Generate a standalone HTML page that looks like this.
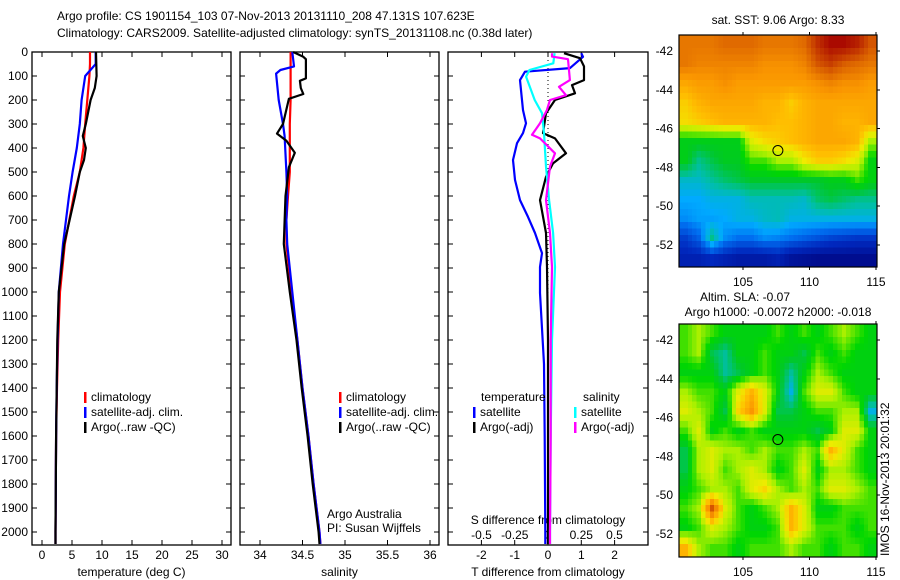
<!DOCTYPE html>
<html><head><meta charset="utf-8">
<style>
html,body{margin:0;padding:0;background:#fff;}
svg{display:block;font-family:"Liberation Sans",sans-serif;font-size:12px;}
</style></head>
<body>
<svg id="fig" width="900" height="580" viewBox="0 0 900 580">
<text x="57" y="20">Argo profile: CS 1901154_103 07-Nov-2013 20131110_208 47.131S 107.623E</text>
<text x="57" y="37">Climatology: CARS2009. Satellite-adjusted climatology: synTS_20131108.nc (0.38d later)</text>
<g id="g1"></g>
<g id="g2"></g>
<g id="g3"></g>
<g id="m1" shape-rendering="crispEdges"></g>
<g id="m2" shape-rendering="crispEdges"></g>
<text x="778" y="24" text-anchor="middle">sat. SST: 9.06 Argo: 8.33</text>
<text x="745" y="301" text-anchor="middle">Altim. SLA: -0.07</text>
<text x="778" y="316" text-anchor="middle">Argo h1000: -0.0072 h2000: -0.018</text>
<text transform="translate(889,556) rotate(-90)">IMOS 16-Nov-2013 20:01:32</text>
<text x="327" y="518">Argo Australia</text>
<text x="327" y="532">PI: Susan Wijffels</text>
</svg>
<script>
// ---- profile data ----
const tempDepth = [0,50,100,200,300,400,500,600,800,1000,1200,1400,1600,1800,2000,2050];
const tempClim = [8.0,8.0,7.9,7.55,7.2,6.9,6.3,5.3,3.8,3.0,2.7,2.5,2.35,2.3,2.25,2.25];
const tempSat = [8.95,8.95,7.2,6.6,6.3,5.8,5.1,4.5,3.5,2.8,2.6,2.45,2.35,2.3,2.25,2.25];
const argoTDepth = [0,100,150,200,300,350,400,450,500,600,800,1000,1200,1600,2000,2050];
const argoT = [9.0,9.1,8.8,8.1,7.3,6.8,7.3,7.0,6.3,5.5,3.7,2.8,2.55,2.35,2.25,2.25];

const salDepth = [0,60,75,90,200,300,350,500,600,700,800,1000,1200,1400,1600,1800,2000,2050];
const salClim = [34.36,34.36,34.36,34.36,34.36,34.35,34.35,34.35,34.33,34.31,34.31,34.37,34.44,34.5,34.57,34.63,34.7,34.71];
const salSat = [34.38,34.40,34.24,34.19,34.22,34.27,34.29,34.31,34.32,34.31,34.32,34.38,34.44,34.5,34.57,34.63,34.7,34.71];
const argoSDepth = [0,20,30,110,120,150,175,195,300,340,370,420,480,600,800,1000,1200,1400,1600,1800,2000,2050];
const argoS = [34.39,34.51,34.54,34.54,34.47,34.48,34.51,34.34,34.27,34.2,34.31,34.41,34.34,34.30,34.28,34.35,34.43,34.49,34.56,34.62,34.69,34.70];

const dTSatDepth = [5,20,67,82,117,242,297,338,380,450,533,617,687,754,838,896,1004,1300,1600,2000,2050];
const dTSat = [1.0,1.05,0.66,-0.69,-0.84,-0.75,-0.66,-0.75,-0.93,-1.05,-0.99,-0.84,-0.6,-0.39,-0.18,-0.24,-0.24,-0.12,-0.1,-0.08,-0.08];
const dTArgoDepth = [5,26,60,117,138,172,200,255,338,360,422,464,520,617,754,896,1200,1600,2000,2050];
const dTArgo = [0.48,0.96,1.08,1.08,0.72,0.81,0.21,-0.06,-0.15,0.21,0.54,0.15,-0.06,-0.24,-0.06,-0.03,0,0,0,0];
const dSSatDepth = [5,47,75,103,200,255,338,477,617,754,896,1200,1600,2000,2050];
const dSSat = [0.05,0.04,-0.14,-0.165,-0.1,-0.045,-0.03,-0.015,0.008,0.038,0.053,0.03,0.02,0.015,0.015];
const dSArgoDepth = [5,19,30,117,145,180,200,242,297,345,360,422,477,617,754,896,1200,1600,2000,2050];
const dSArgo = [0.03,0.03,0.15,0.165,0.083,0.135,0.015,-0.008,-0.06,-0.12,-0.06,0.053,0.015,-0.015,0.015,0.03,0.02,0.02,0.015,0.015];

const depthTicks = [0,100,200,300,400,500,600,700,800,900,1000,1100,1200,1300,1400,1500,1600,1700,1800,1900,2000];
const tempTicks = [0,5,10,15,20,25,30];
const salTicks = [34,34.5,35,35.5,36];
const salTickLabels = ["34","34.5","35","35.5","36"];
const dTTicks = [-2,-1,0,1,2];
const dSTicks = [-0.5,-0.25,0,0.25,0.5];
const dSTickLabels = ["-0.5","-0.25","0","0.25","0.5"];

// ---- map data (rows north->south, cols west->east) ----
const sstGrid = [
[0.8,0.8,0.8,0.82,0.82,0.82,0.8,0.8,0.8,0.82,0.9,0.95,0.95,0.92,0.85],
[0.8,0.78,0.78,0.78,0.78,0.78,0.76,0.76,0.76,0.78,0.85,0.88,0.84,0.82,0.8],
[0.72,0.74,0.74,0.76,0.74,0.74,0.74,0.74,0.74,0.74,0.76,0.78,0.76,0.76,0.74],
[0.66,0.7,0.72,0.72,0.72,0.72,0.7,0.7,0.66,0.7,0.72,0.72,0.72,0.72,0.72],
[0.64,0.66,0.68,0.7,0.7,0.7,0.7,0.68,0.68,0.7,0.72,0.72,0.7,0.7,0.72],
[0.44,0.44,0.44,0.44,0.44,0.6,0.64,0.66,0.68,0.7,0.72,0.72,0.72,0.7,0.55],
[0.44,0.36,0.4,0.43,0.43,0.5,0.5,0.55,0.55,0.62,0.66,0.66,0.64,0.6,0.45],
[0.32,0.32,0.35,0.38,0.4,0.42,0.42,0.42,0.42,0.42,0.42,0.44,0.44,0.5,0.45],
[0.28,0.28,0.3,0.3,0.3,0.33,0.33,0.33,0.33,0.32,0.38,0.4,0.38,0.36,0.36],
[0.25,0.27,0.27,0.28,0.3,0.3,0.32,0.33,0.3,0.3,0.3,0.3,0.3,0.3,0.3],
[0.15,0.2,0.36,0.25,0.22,0.22,0.25,0.24,0.22,0.2,0.18,0.16,0.15,0.14,0.14],
[0.1,0.1,0.12,0.1,0.08,0.08,0.08,0.1,0.06,0.05,0.04,0.04,0.04,0.04,0.04]];
const slaGrid = [
[0.5,0.55,0.5,0.45,0.45,0.45,0.45,0.5,0.45,0.5,0.45,0.5,0.55,0.5,0.45],
[0.5,0.55,0.4,0.35,0.45,0.45,0.5,0.45,0.45,0.4,0.5,0.45,0.5,0.45,0.45],
[0.45,0.45,0.45,0.35,0.4,0.45,0.5,0.45,0.35,0.45,0.55,0.5,0.45,0.45,0.45],
[0.55,0.5,0.5,0.45,0.6,0.7,0.6,0.45,0.3,0.5,0.6,0.6,0.5,0.45,0.45],
[0.6,0.55,0.5,0.4,0.65,0.75,0.6,0.4,0.4,0.45,0.5,0.5,0.55,0.55,0.3],
[0.5,0.6,0.45,0.5,0.45,0.5,0.45,0.45,0.45,0.45,0.4,0.45,0.6,0.6,0.45],
[0.4,0.55,0.6,0.55,0.55,0.5,0.55,0.5,0.5,0.55,0.5,0.7,0.6,0.5,0.45],
[0.4,0.55,0.6,0.5,0.55,0.6,0.55,0.45,0.5,0.6,0.45,0.55,0.55,0.5,0.45],
[0.45,0.5,0.55,0.55,0.5,0.6,0.65,0.55,0.5,0.55,0.5,0.6,0.6,0.55,0.5],
[0.5,0.55,0.85,0.6,0.5,0.45,0.5,0.55,0.7,0.6,0.45,0.45,0.5,0.5,0.5],
[0.45,0.5,0.6,0.55,0.5,0.45,0.45,0.5,0.7,0.6,0.5,0.5,0.5,0.45,0.5],
[0.7,0.55,0.5,0.5,0.45,0.5,0.5,0.5,0.55,0.5,0.5,0.45,0.5,0.5,0.45]];
const lonTicks = [105,110,115];
const latTicks = [-42,-44,-46,-48,-50,-52];
const argoLon = 107.623, argoLat = -47.131;

const NS = "http://www.w3.org/2000/svg";
function mk(tag, attrs, parent){const e=document.createElementNS(NS,tag);for(const k in attrs)e.setAttribute(k,attrs[k]);parent.appendChild(e);return e;}

const TOP=52, BOT=545;
function yD(d){return 52 + d*0.24;}

function drawPanel(g, x0, x1, xs, ticks, labels, title){
  const fr = mk('rect',{x:x0,y:TOP,width:x1-x0,height:BOT-TOP,fill:'none',stroke:'#000','stroke-width':1.3},g);
  
  
  depthTicks.forEach(d=>{
    const y=yD(d);
    mk('line',{x1:x0,x2:x0+5,y1:y,y2:y,stroke:'#000'},g);
    mk('line',{x1:x1-5,x2:x1,y1:y,y2:y,stroke:'#000'},g);
  });
  ticks.forEach((v,i)=>{
    const x=xs(v);
    mk('line',{x1:x,x2:x,y1:TOP,y2:TOP+5,stroke:'#000'},g);
    mk('line',{x1:x,x2:x,y1:BOT-5,y2:BOT,stroke:'#000'},g);
    const t=mk('text',{x:x,y:559,'text-anchor':'middle'},g);
    t.textContent=labels[i];
    
    
  });
  const tt=mk('text',{x:(x0+x1)/2,y:576,'text-anchor':'middle'},g);
  tt.textContent=title;
  
  
}
function line(g, xs, depths, vals, color, name){
  const pts = depths.map((d,i)=>xs(vals[i]).toFixed(1)+','+yD(d).toFixed(1)).join(' ');
  const p=mk('polyline',{points:pts,fill:'none',stroke:color,'stroke-width':2.2,'stroke-linejoin':'round'},g);
  
  
}
function legend(g, x, y, color, label){
  mk('rect',{x:x,y:y-9,width:2.5,height:11,fill:color},g);
  const t=mk('text',{x:x+7,y:y},g);
  t.textContent=label;
  
  
}

const fig=document.getElementById('fig');
depthTicks.forEach(d=>{
  const t=mk('text',{x:28,y:yD(d)+4,'text-anchor':'end'},fig);
  t.textContent=String(d);
  
  
});

const g1=document.getElementById('g1');
const xT = v=>42+v*6;
drawPanel(g1,32,231,xT,tempTicks,tempTicks.map(String),'temperature (deg C)');
line(g1,xT,tempDepth,tempClim,'#f00','temp-climatology-line');
line(g1,xT,tempDepth,tempSat,'#00f','temp-satellite-line');
line(g1,xT,argoTDepth,argoT,'#000','temp-argo-line');
legend(g1,84,401,'#f00','climatology');
legend(g1,84,416,'#00f','satellite-adj. clim.');
legend(g1,84,431,'#000','Argo(..raw -QC)');

const g2=document.getElementById('g2');
const xS = v=>260+(v-34)*85;
drawPanel(g2,240,439,xS,salTicks,salTickLabels,'salinity');
line(g2,xS,salDepth,salClim,'#f00','sal-climatology-line');
line(g2,xS,salDepth,salSat,'#00f','sal-satellite-line');
line(g2,xS,argoSDepth,argoS,'#000','sal-argo-line');
legend(g2,339,401,'#f00','climatology');
legend(g2,339,416,'#00f','satellite-adj. clim.');
legend(g2,339,431,'#000','Argo(..raw -QC)');

const g3=document.getElementById('g3');
const xdT = v=>548+v*33.3;
const xdS = v=>548+v*133;
drawPanel(g3,448,648,xdT,dTTicks,dTTicks.map(String),'T difference from climatology');
mk('line',{x1:548,x2:548,y1:TOP,y2:BOT,stroke:'#000','stroke-dasharray':'1,3'},g3);
dSTicks.forEach((v,i)=>{
  const t=mk('text',{x:xdS(v),y:539,'text-anchor':'middle'},g3);
  t.textContent=dSTickLabels[i];
  
  
});
const st=mk('text',{x:548,y:524,'text-anchor':'middle'},g3);
st.textContent='S difference from climatology';


line(g3,xdT,dTSatDepth,dTSat,'#00f','dT-satellite-line');
line(g3,xdT,dTArgoDepth,dTArgo,'#000','dT-argo-line');
line(g3,xdS,dSSatDepth,dSSat,'#0ff','dS-satellite-line');
line(g3,xdS,dSArgoDepth,dSArgo,'#f0f','dS-argo-line');
const lt=mk('text',{x:481,y:401},g3); lt.textContent='temperature';


const ls=mk('text',{x:583,y:401},g3); ls.textContent='salinity';


legend(g3,473,416,'#00f','satellite');
legend(g3,473,431,'#000','Argo(-adj)');
legend(g3,574,416,'#0ff','satellite');
legend(g3,574,431,'#f0f','Argo(-adj)');

const stops=[[0,[0,0,120]],[0.12,[0,40,190]],[0.22,[0,110,240]],[0.28,[0,170,255]],[0.34,[0,190,170]],[0.42,[0,200,40]],[0.47,[0,215,0]],[0.55,[170,240,0]],[0.62,[240,235,0]],[0.68,[255,190,0]],[0.75,[250,150,0]],[0.83,[220,100,0]],[0.95,[170,10,0]],[1,[140,0,0]]];
function cmap(v){
  for(let i=1;i<stops.length;i++){
    if(v<=stops[i][0]){const a=stops[i-1],b=stops[i];const t=(v-a[0])/(b[0]-a[0]);
      return 'rgb('+a[1].map((c,k)=>Math.round(c+(b[1][k]-c)*t)).join(',')+')';}
  }
  return 'rgb(140,0,0)';
}
function sample(grid, fr, fc){
  const nr=grid.length, nc=grid[0].length;
  fr=Math.max(0,Math.min(nr-1,fr)); fc=Math.max(0,Math.min(nc-1,fc));
  const r0=Math.floor(fr), c0=Math.floor(fc), r1=Math.min(nr-1,r0+1), c1=Math.min(nc-1,c0+1);
  const tr=fr-r0, tc=fc-c0;
  const a=grid[r0][c0]*(1-tc)+grid[r0][c1]*tc, b=grid[r1][c0]*(1-tc)+grid[r1][c1]*tc;
  return a*(1-tr)+b*tr;
}
function drawMap(g, grid, top, bot, label){
  const L=679,R=877,SUB=3;
  const lonX=lon=>743+(lon-105)*13.3;
  const latY=lat=>top+16+(-42-lat)*19.4;
  const nr=grid.length, nc=grid[0].length, cw=(R-L)/(nc*SUB), ch=(bot-top)/(nr*SUB);
  for(let r=0;r<nr*SUB;r++){
    for(let c=0;c<nc*SUB;c++){
      const v=sample(grid,(r+0.5)/SUB-0.5,(c+0.5)/SUB-0.5);
      const e=mk('rect',{x:(L+c*cw).toFixed(2),y:(top+r*ch).toFixed(2),width:(cw+0.7).toFixed(2),height:(ch+0.7).toFixed(2),fill:cmap(v)},g);
      
      
    }
  }
  mk('rect',{x:L,y:top,width:R-L,height:bot-top,fill:'none',stroke:'#000','stroke-width':1.2,'shape-rendering':'auto'},g);
  lonTicks.forEach(lon=>{
    const x=lonX(lon);
    mk('line',{x1:x,x2:x,y1:top-3,y2:top,stroke:'#000'},g);
    mk('line',{x1:x,x2:x,y1:bot,y2:bot+3,stroke:'#000'},g);
    const t=mk('text',{x:x,y:bot+19,'text-anchor':'middle'},g);
    t.textContent=String(lon);
    
    
  });
  latTicks.forEach(lat=>{
    const y=latY(lat);
    mk('line',{x1:R,x2:R+3,y1:y,y2:y,stroke:'#000'},g);
    const t=mk('text',{x:673,y:y+4,'text-anchor':'end'},g);
    t.textContent=String(lat);
    
    
  });
  const c=mk('circle',{cx:lonX(argoLon),cy:latY(argoLat),r:5,fill:'none',stroke:'#000','stroke-width':1,'shape-rendering':'auto'},g);
  
  
}
drawMap(document.getElementById('m1'),sstGrid,35,267,'sst');
drawMap(document.getElementById('m2'),slaGrid,324,557,'sla');
</script>
</body></html>
